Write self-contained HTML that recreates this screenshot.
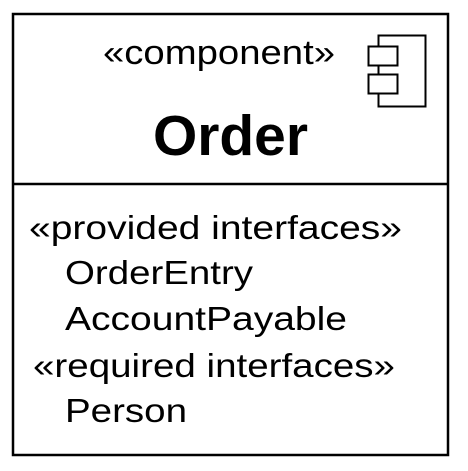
<!DOCTYPE html>
<html><head><style>html,body{margin:0;padding:0;background:#fff;}</style></head>
<body>
<svg width="468" height="466" viewBox="0 0 468 466" xmlns="http://www.w3.org/2000/svg" font-family="Liberation Sans, Arial, sans-serif">
<rect x="13" y="14" width="435" height="441" fill="#fff" stroke="#000" stroke-width="2.5"/>
<line x1="13" y1="184" x2="448" y2="184" stroke="#000" stroke-width="2.5"/>
<rect x="378.5" y="35.5" width="47" height="71" fill="#fff" stroke="#000" stroke-width="2"/>
<rect x="368.5" y="46.5" width="29" height="19" fill="#fff" stroke="#000" stroke-width="2"/>
<rect x="368.5" y="74.5" width="29" height="19" fill="#fff" stroke="#000" stroke-width="2"/>
<text x="103" y="64" font-size="34" textLength="232" lengthAdjust="spacingAndGlyphs">«component»</text>
<text x="153" y="155" font-size="57" font-weight="bold" textLength="155" lengthAdjust="spacingAndGlyphs">Order</text>
<g font-size="33">
<text x="29" y="239" textLength="373" lengthAdjust="spacingAndGlyphs">«provided interfaces»</text>
<text x="65" y="284" textLength="188" lengthAdjust="spacingAndGlyphs">OrderEntry</text>
<text x="65" y="330" textLength="282" lengthAdjust="spacingAndGlyphs">AccountPayable</text>
<text x="33" y="377" textLength="362" lengthAdjust="spacingAndGlyphs">«required interfaces»</text>
<text x="65" y="422" textLength="122" lengthAdjust="spacingAndGlyphs">Person</text>
</g>
</svg>
</body></html>
